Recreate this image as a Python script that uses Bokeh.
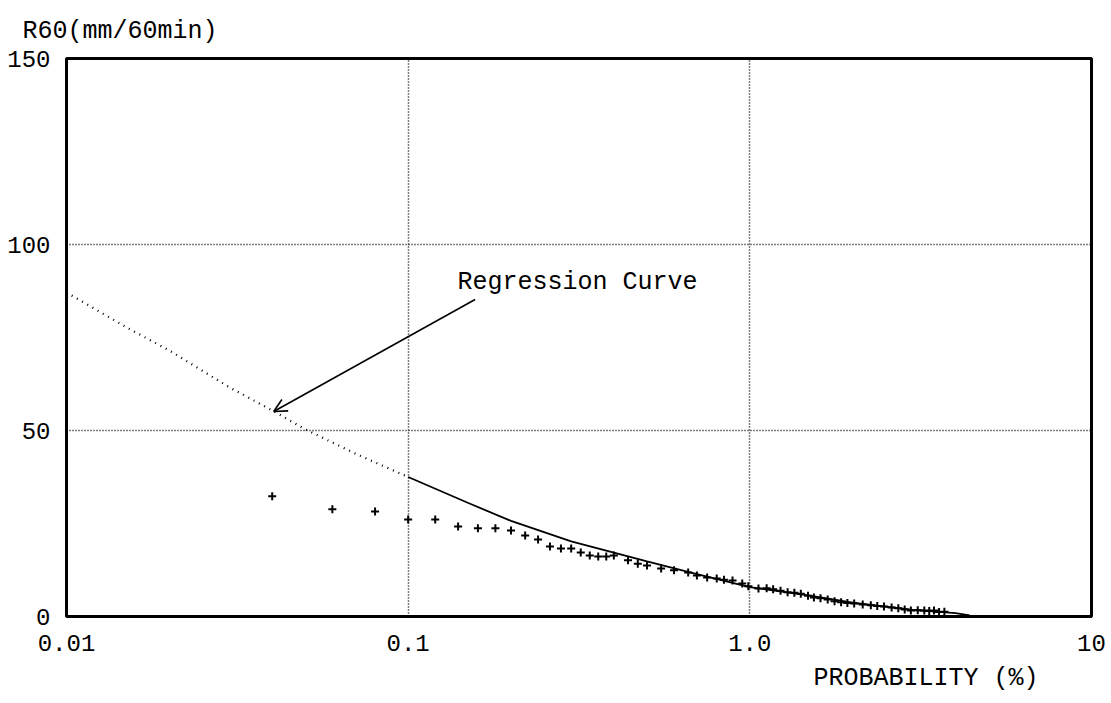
from bokeh.plotting import figure
from bokeh.models import (Arrow, OpenHead, Label, FixedTicker, CustomJSTickFormatter,
                          Range1d, ColumnDataSource, Title)
from bokeh.embed import file_html
from bokeh.resources import INLINE

# ---- data ----
x_ticks = [0.01, 0.1, 1.0, 10.0]
x_tick_labels = ["0.01", "0.1", "1.0", "10"]
y_ticks = [0, 50, 100, 150]

# regression curve (upper dotted part and lower continuous part)
reg_x_upper = [0.01, 0.015, 0.02, 0.03, 0.04, 0.05, 0.07, 0.1]
reg_y_upper = [87.1, 77.7, 71.5, 61.6, 55.4, 50.3, 43.8, 37.5]
reg_x_lower = [0.1, 0.15, 0.2, 0.3, 0.5, 0.7, 1.0, 1.5, 2.0, 3.0, 4.0, 4.4]
reg_y_lower = [37.5, 30.5, 25.7, 20.2, 14.8, 11.4, 7.9, 5.6, 3.7, 1.8, 0.9, 0.3]

# observed values (plotting position %, R60 mm/60min)
obs_prob = [0.04, 0.06, 0.08, 0.10, 0.12, 0.14, 0.16, 0.18, 0.20, 0.22, 0.24,
            0.26, 0.28, 0.30, 0.32, 0.34, 0.36, 0.38, 0.40, 0.44, 0.47, 0.50,
            0.55, 0.60, 0.66, 0.70, 0.75, 0.80, 0.84, 0.89, 0.95, 0.99, 1.06,
            1.12, 1.17, 1.23, 1.29, 1.35, 1.41, 1.48, 1.54, 1.61, 1.69, 1.77,
            1.85, 1.93, 2.02, 2.14, 2.26, 2.36, 2.47, 2.60, 2.72, 2.84, 2.96,
            3.10, 3.24, 3.35, 3.46, 3.58, 3.71]
obs_r60 = [32.3, 28.8, 28.2, 26.1, 26.1, 24.2, 23.7, 23.7, 23.1, 21.8, 20.7,
           18.8, 18.3, 18.3, 17.2, 16.4, 16.1, 16.1, 16.4, 15.1, 14.2, 13.7,
           12.9, 12.4, 11.8, 11.0, 10.5, 10.2, 9.9, 9.7, 8.9, 8.1, 7.5,
           7.6, 7.3, 6.9, 6.5, 6.4, 6.1, 5.6, 5.1, 4.9, 4.6, 4.1,
           3.8, 3.6, 3.5, 3.2, 3.0, 2.8, 2.7, 2.4, 2.2, 1.9, 1.6,
           1.7, 1.6, 1.5, 1.6, 1.2, 1.3]

FONT = "Liberation Mono"

p = figure(width=1111, height=703, x_axis_type="log",
           x_range=Range1d(0.01, 10), y_range=Range1d(0, 150),
           output_backend="svg", toolbar_location=None,
           min_border_left=66, min_border_right=20,
           min_border_top=58, min_border_bottom=87,
           background_fill_color="white", border_fill_color="white")

# y-axis title at top left, x-axis title at bottom right
p.title = Title(text="R60(mm/60min)", align="left", offset=-44, standoff=26,
                text_font=FONT, text_font_size="25px", text_font_style="normal",
                text_color="black")
p.add_layout(Title(text="PROBABILITY (%)", align="right", offset=53, standoff=17,
                   text_font=FONT, text_font_size="25px", text_font_style="normal",
                   text_color="black"), "below")

# frame
p.outline_line_color = "black"
p.outline_line_width = 3

# grid
p.xgrid.ticker = FixedTicker(ticks=[0.1, 1.0])
p.ygrid.ticker = FixedTicker(ticks=[50, 100])
for g in (p.xgrid, p.ygrid):
    g.grid_line_color = "black"
    g.grid_line_dash = "1 2"
    g.grid_line_width = 1.5

# axes
p.xaxis.ticker = FixedTicker(ticks=x_ticks)
p.xaxis.formatter = CustomJSTickFormatter(
    args=dict(tv=x_ticks, labels=x_tick_labels),
    code="""
    for (let i = 0; i < tv.length; i++) {
        if (Math.abs(Math.log10(tv[i]) - Math.log10(tick)) < 1e-6) return labels[i];
    }
    return "";
    """)
p.yaxis.ticker = FixedTicker(ticks=y_ticks)
for ax in (p.xaxis[0], p.yaxis[0]):
    ax.axis_line_color = "black"
    ax.axis_line_width = 3
    ax.major_tick_line_color = None
    ax.minor_tick_line_color = None
    ax.major_label_text_font = FONT
    ax.major_label_text_font_size = "24px"
    ax.major_label_text_color = "black"
p.xaxis.major_label_standoff = 12
p.yaxis.major_label_standoff = 10

# regression curve
p.line(reg_x_upper, reg_y_upper, line_color="black", line_width=2.2, line_dash="1 5")
p.line(reg_x_lower, reg_y_lower, line_color="black", line_width=1.8)

# observations
src = ColumnDataSource(dict(x=obs_prob, y=obs_r60))
p.scatter("x", "y", source=src, marker="cross", size=8, line_color="black", line_width=2)

# annotation
p.add_layout(Label(x=0.1395, y=89.8, text="Regression Curve", text_font=FONT,
                   text_font_size="25px", text_color="black",
                   text_align="left", text_baseline="middle"))
p.add_layout(Arrow(end=OpenHead(size=13, line_width=1.6, line_color="black"),
                   x_start=0.157, y_start=85.2, x_end=0.0404, y_end=55.1,
                   line_width=1.6, line_color="black"))

open("out.html", "w").write(file_html(p, INLINE))
